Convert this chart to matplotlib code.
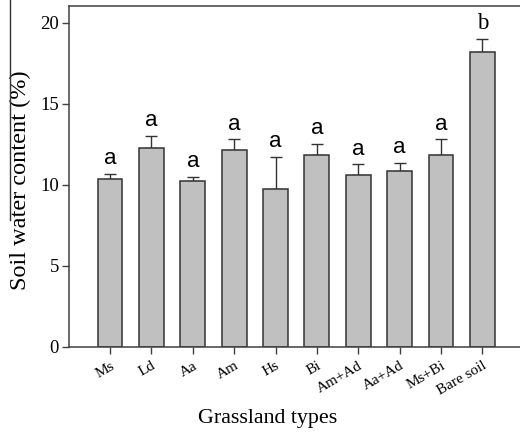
import matplotlib
matplotlib.use("Agg")
import matplotlib.pyplot as plt
from matplotlib.lines import Line2D

categories = ["Ms", "Ld", "Aa", "Am", "Hs", "Bi", "Am+Ad", "Aa+Ad", "Ms+Bi", "Bare soil"]
means = [10.35, 12.25, 10.21, 12.16, 9.75, 11.83, 10.62, 10.85, 11.81, 18.17]
errors = [0.31, 0.75, 0.28, 0.64, 1.98, 0.70, 0.64, 0.49, 0.99, 0.83]
letters = ["a", "a", "a", "a", "a", "a", "a", "a", "a", "b"]
yticks = [0, 5, 10, 15, 20]

W, H = 520, 432
fig = plt.figure(figsize=(W / 100, H / 100), dpi=100)
ax = fig.add_axes([68.7 / W, 85.3 / H, 455 / W, 340.7 / H])

serif = ["Liberation Serif", "DejaVu Serif"]
sans = ["Liberation Sans", "DejaVu Sans"]
edge = "#333333"

x = list(range(len(categories)))
ax.bar(x, means, width=0.6, color="#c0c0c0", edgecolor=edge, linewidth=1.1, zorder=2)
ax.errorbar(x, means, yerr=[[0] * len(errors), errors], fmt="none", ecolor=edge,
            elinewidth=1.0, capsize=4, capthick=1.0, zorder=1)

for xi, m, e, lab in zip(x, means, errors, letters):
    if lab == "b":
        ax.annotate(lab, (xi, m + e), xytext=(0, 7), textcoords="offset points",
                    ha="center", va="baseline", fontsize=16.5, family=serif)
    else:
        ax.annotate(lab, (xi, m + e), xytext=(0, 7), textcoords="offset points",
                    ha="center", va="baseline", fontsize=16, family=sans)

ax.set_xlim(-1, 10)
ax.set_ylim(0, 21.03)
ax.set_yticks(yticks)
ax.set_yticklabels([str(t) for t in yticks], family=serif, fontsize=13.5)
ax.set_xticks(x)
ax.set_xticklabels(categories, rotation=30, ha="right", va="top", rotation_mode="anchor",
                   family=serif, fontsize=11)
ax.tick_params(axis="both", direction="out", length=5, width=1, color="#404040")
ax.tick_params(axis="x", pad=4)
ax.tick_params(axis="y", pad=2)

for s in ["left", "bottom", "top"]:
    ax.spines[s].set_color("#404040")
    ax.spines[s].set_linewidth(1.1)
ax.spines["right"].set_visible(False)

ax.set_ylabel("Soil water content (%)", family=serif, fontsize=17.5)
ax.yaxis.set_label_coords((31 - 68.7) / 455, 0.489)
fig.text(267.5 / W, 1 - 423 / H, "Grassland types", family=serif, fontsize=15.8,
         ha="center", va="baseline")

fig.add_artist(Line2D([9.5 / W, 9.5 / W], [1, 1 - 220 / H], transform=fig.transFigure,
                      color="#333333", linewidth=1.0))

fig.savefig("out.png", dpi=100)
